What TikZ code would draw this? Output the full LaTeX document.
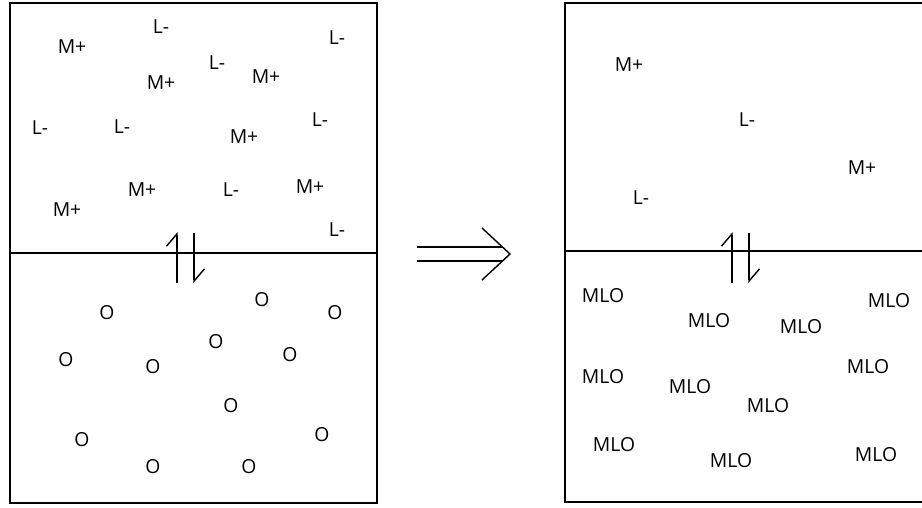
\documentclass[tikz,border=0pt]{standalone}
\usepackage{fontspec}
\setmainfont{Open Sans}
\usetikzlibrary{arrows.meta}
\tikzset{
    lbl/.style={inner sep=0pt, font=\fontsize{11}{13}\selectfont},
    wall/.style={line width=0.8pt},
    harp/.style={line width=0.8pt, -{Straight Barb[left,length=7pt,width=12pt]}}
}
\begin{document}
\begin{tikzpicture}[x=0.02cm,y=-0.02cm]
            \useasboundingbox (0,0) rectangle (922,507);
            % left vessel
            \draw[wall] (10,3) rectangle (377,503);
            \draw[wall] (10,253) -- (377,253);
            % right vessel
            \draw[wall] (925,3) -- (565,3) -- (565,502) -- (925,502);
            \draw[wall] (565,251) -- (925,251);
            % free ions, left
            \foreach \x/\y [count=\i] in {72/47,161/83,266/77,244/137,142/190,310/187,67/210}
            {
                \node[lbl] (mpl\i) at (\x,\y) {M+};
            };
            \foreach \x/\y [count=\i] in {161/27,337/38,217/63,40/128,122/127,320/120,231/190,337/230}
            {
                \node[lbl] (lml\i) at (\x,\y) {L-};
            };
            % organic phase, left
            \foreach \x/\y [count=\i] in {107/313,262/300,335/313,216/342,290/355,66/360,153/367,231/406,82/440,322/435,153/467,249/467}
            {
                \node[lbl] (ol\i) at (\x,\y) {O};
            };
            % right
            \node[lbl] (mpr1) at (629,65) {M+};
            \node[lbl] (mpr2) at (862,168) {M+};
            \node[lbl] (lmr1) at (747,120) {L-};
            \node[lbl] (lmr2) at (641,198) {L-};
            \foreach \x/\y [count=\i] in {603/296,889/301,709/321,801/327,603/377,868/367,690/387,768/406,614/445,876/455,731/461}
            {
                \node[lbl] (mlo\i) at (\x,\y) {MLO};
            };
            % exchange across the interface
            \coordinate (upl0) at (177,283);
            \coordinate (upl1) at (177,232);
            \coordinate (dnl0) at (194,233);
            \coordinate (dnl1) at (194,283);
            \draw[harp] (upl0) -- (upl1);
            \draw[harp] (dnl0) -- (dnl1);
            \coordinate (upr0) at (732,283);
            \coordinate (upr1) at (732,232);
            \coordinate (dnr0) at (749,233);
            \coordinate (dnr1) at (749,283);
            \draw[harp] (upr0) -- (upr1);
            \draw[harp] (dnr0) -- (dnr1);
            % big arrow
            \coordinate (goa) at (417,247);
            \coordinate (gob) at (417,261);
            \coordinate (enda) at (503,247);
            \coordinate (endb) at (503,261);
            \coordinate (tip) at (510,254);
            \coordinate (barba) at (482,228);
            \coordinate (barbb) at (482,280);
            \draw[wall] (goa) -- (enda);
            \draw[wall] (gob) -- (endb);
            \draw[wall] (barba) -- (tip) -- (barbb);
        \end{tikzpicture}
\end{document}
